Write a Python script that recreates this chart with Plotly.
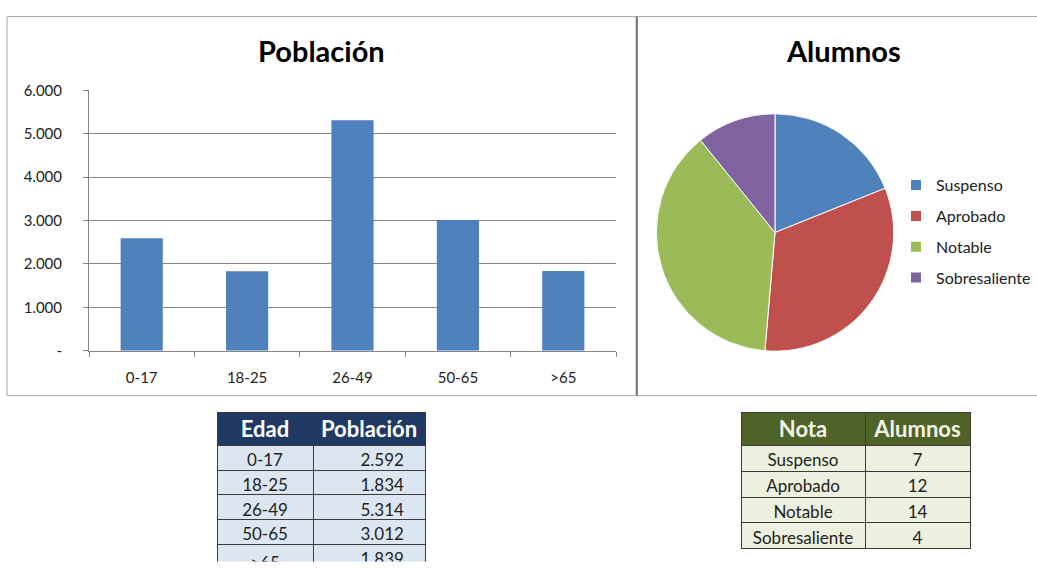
import plotly.graph_objects as go

# ---- data ----
edades = ["0-17", "18-25", "26-49", "50-65", ">65"]
poblacion = [2592, 1834, 5314, 3012, 1839]
notas = ["Suspenso", "Aprobado", "Notable", "Sobresaliente"]
alumnos = [7, 12, 14, 4]
y_tickvals = [0, 1000, 2000, 3000, 4000, 5000, 6000]
y_ticktext = ["-", "1.000", "2.000", "3.000", "4.000", "5.000", "6.000"]

# ---- styles ----
FONT = "Lato"
BAR_COLOR = "#4F81BD"
PIE_COLORS = ["#4F81BD", "#C0504D", "#9BBB59", "#8064A2"]
GRID = "#868686"
W, H = 1037, 570
# vertical calibration of the photographed page (observed: shot_y = OY + SY * page_y)
SY, OY = 0.971, 8.4


def fx(px):
    return px / W


def fy(py):
    return max(0.0, min(1.0, 1 - ((py - OY) / SY) / H))


def miles(v):
    return f"{v:,}".replace(",", ".")


fig = go.Figure()

# bar chart
fig.add_trace(go.Bar(
    x=edades, y=poblacion, marker=dict(color=BAR_COLOR, line=dict(width=0)),
    showlegend=False, xaxis="x", yaxis="y",
))

# pie chart (centre ~ (775, 231))
fig.add_trace(go.Pie(
    labels=notas, values=alumnos, sort=False, direction="clockwise", rotation=0,
    marker=dict(colors=PIE_COLORS, line=dict(color="white", width=1)),
    textinfo="none", showlegend=False,
    domain=dict(x=[fx(655), fx(895)], y=[fy(350.5), fy(112.5)]),
))

# legend entries for the pie (one group each, so spacing can be set)
for lab, col in zip(notas, PIE_COLORS):
    fig.add_trace(go.Scatter(
        x=[None], y=[None], mode="markers", name=lab, legendgroup=lab,
        marker=dict(symbol="square", size=10, color=col),
        xaxis="x", yaxis="y",
    ))

# tables
fig.add_trace(go.Table(
    domain=dict(x=[fx(217), fx(425)], y=[0, fy(412)]),
    columnwidth=[96, 112],
    header=dict(
        values=["Edad", "Población"],
        fill_color="#1F3864", line=dict(color="#3A3A3A", width=1),
        font=dict(family=FONT, size=22, color="white", weight="bold"), align="center", height=33,
    ),
    cells=dict(
        values=[edades, [miles(v) for v in poblacion]],
        fill_color="#DCE6F1", line=dict(color="#3A3A3A", width=1),
        font=dict(family=FONT, size=17, color="#222222"), align=["center", "right"], height=24.7,
        suffix=["", "\u00a0\u00a0\u00a0"],
    ),
))
fig.add_trace(go.Table(
    domain=dict(x=[fx(741), fx(970)], y=[fy(550), fy(412)]),
    columnwidth=[124, 105],
    header=dict(
        values=["Nota", "Alumnos"],
        fill_color="#4F6228", line=dict(color="#3A3A3A", width=1),
        font=dict(family=FONT, size=22, color="#F2F2E6", weight="bold"), align="center", height=33,
    ),
    cells=dict(
        values=[notas, alumnos],
        fill_color="#EBF1DE", line=dict(color="#3A3A3A", width=1),
        font=dict(family=FONT, size=17, color="#222222"), align="center", height=25.8,
    ),
))

fig.update_layout(
    width=W, height=H, autosize=False, margin=dict(l=0, r=0, t=0, b=0),
    paper_bgcolor="white", plot_bgcolor="white",
    font=dict(family=FONT, color="#222222"),
    bargap=0.6,
    xaxis=dict(
        domain=[fx(89), fx(616)], type="category", tickson="boundaries",
        ticks="outside", ticklen=5, tickcolor=GRID, showline=True, linecolor=GRID,
        showgrid=False, tickfont=dict(size=15, color="#222222"), ticklabelstandoff=13,
        fixedrange=True,
    ),
    yaxis=dict(
        domain=[fy(350), fy(89)], range=[0, 6000], tickvals=y_tickvals, ticktext=y_ticktext,
        ticks="outside", ticklen=5, tickcolor=GRID, showline=True, linecolor=GRID,
        showgrid=True, gridcolor=GRID, gridwidth=1, zeroline=False,
        tickfont=dict(size=15, color="#222222"), ticklabelstandoff=18, fixedrange=True,
    ),
    legend=dict(
        x=fx(896), y=fy(167), xanchor="left", yanchor="top",
        font=dict(family=FONT, size=16, color="#222222"), tracegroupgap=7,
        bgcolor="rgba(0,0,0,0)",
    ),
    annotations=[
        dict(text="<b>Población</b>", x=fx(321), y=fy(49), xref="paper", yref="paper",
             xanchor="center", yanchor="middle", showarrow=False,
             font=dict(family=FONT, size=29, color="black")),
        dict(text="<b>Alumnos</b>", x=fx(843), y=fy(49), xref="paper", yref="paper",
             xanchor="center", yanchor="middle", showarrow=False,
             font=dict(family=FONT, size=29, color="black")),
    ],
    shapes=[
        dict(type="rect", xref="paper", yref="paper", x0=fx(7), x1=fx(636), y0=fy(395), y1=fy(15),
             line=dict(color="#A6A6A6", width=1), layer="below"),
        dict(type="line", xref="paper", yref="paper", x0=fx(636), x1=1, y0=fy(15), y1=fy(15),
             line=dict(color="#A6A6A6", width=1)),
        dict(type="line", xref="paper", yref="paper", x0=fx(636), x1=1, y0=fy(395), y1=fy(395),
             line=dict(color="#A6A6A6", width=1)),
        dict(type="line", xref="paper", yref="paper", x0=fx(637), x1=fx(637), y0=fy(395), y1=fy(15),
             line=dict(color="#7F7F7F", width=2)),
    ],
)

POST = (
    "var gd=document.getElementById('{plot_id}');"
    "document.documentElement.style.cssText='margin:0;padding:0;overflow:hidden;height:570px;';"
    "document.body.style.cssText='margin:0;padding:0;overflow:hidden;height:570px;';"
    "gd.style.position='fixed';gd.style.top='0px';gd.style.left='0px';"
)

fig.write_html(
    "out.html",
    config={"responsive": False, "displayModeBar": False},
    post_script=POST,
)
